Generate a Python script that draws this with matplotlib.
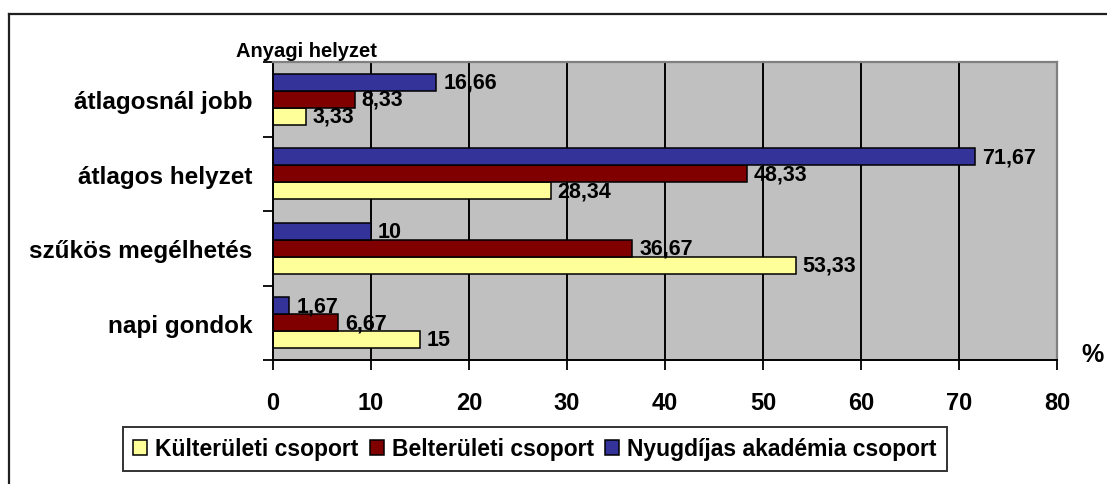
import matplotlib

matplotlib.use("Agg")
import matplotlib.pyplot as plt
import numpy as np
from matplotlib.lines import Line2D
from matplotlib.patches import Rectangle

# categories bottom -> top (as drawn)
categories = ["napi gondok", "szűkös megélhetés", "átlagos helyzet", "átlagosnál jobb"]
series_names = ["Külterületi csoport", "Belterületi csoport", "Nyugdíjas akadémia csoport"]
kulteruleti = [15, 53.33, 28.34, 3.33]
belteruleti = [6.67, 36.67, 48.33, 8.33]
nyugdijas = [1.67, 10, 71.67, 16.66]
value_labels = [
    ["15", "53,33", "28,34", "3,33"],
    ["6,67", "36,67", "48,33", "8,33"],
    ["1,67", "10", "71,67", "16,66"],
]
series_colors = ["#FFFF99", "#800000", "#333399"]
x_ticks = [0, 10, 20, 30, 40, 50, 60, 70, 80]

plt.rcParams["font.family"] = ["Liberation Sans", "DejaVu Sans"]
plt.rcParams["font.weight"] = "bold"

W, H = 1107, 485
fig = plt.figure(figsize=(W / 100, H / 100), dpi=100)
ax = fig.add_axes([273 / W, 1 - 361 / H, (1057 - 273) / W, (361 - 63) / H])

ax.set_facecolor("#C0C0C0")
ax.set_xlim(0, 80)
ax.set_ylim(-0.5, len(categories) - 0.5)

for xv in x_ticks[1:-1]:
    ax.axvline(xv, color="black", linewidth=1.4, zorder=1)

y = np.arange(len(categories))
bar_h = 0.228
offsets = [-bar_h, 0, bar_h]
all_series = [kulteruleti, belteruleti, nyugdijas]
for vals, col, off, labs in zip(all_series, series_colors, offsets, value_labels):
    ax.barh(y + off, vals, height=bar_h, color=col, edgecolor="black",
            linewidth=1.1, zorder=2)
    for yi, v, lab in zip(y, vals, labs):
        ax.annotate(lab, (v, yi + off), xytext=(5, 0), textcoords="offset points",
                    ha="left", va="center", fontsize=15.5, fontweight="bold", zorder=3)

# category ticks sit between groups, labels in the middle
ax.set_yticks(np.arange(-0.5, len(categories), 1.0))
ax.set_yticklabels([])
ax.set_yticks(y, minor=True)
ax.set_yticklabels(categories, minor=True, fontsize=17.5, fontweight="bold")
ax.tick_params(axis="y", which="major", direction="out", length=7, width=1.3, color="black")
ax.tick_params(axis="y", which="minor", length=0, pad=15)

ax.set_xticks(x_ticks)
ax.set_xticklabels([str(t) for t in x_ticks], fontsize=17, fontweight="bold")
ax.tick_params(axis="x", direction="out", length=7, width=1.3, pad=15)

for side in ("left", "bottom"):
    ax.spines[side].set_color("black")
    ax.spines[side].set_linewidth(1.4)
for side in ("top", "right"):
    ax.spines[side].set_color("#808080")
    ax.spines[side].set_linewidth(1.6)

fig.text(236 / W, 1 - 57 / H, "Anyagi helyzet", fontsize=14.5, fontweight="bold",
         ha="left", va="baseline")
fig.text(1092 / W, 1 - 355 / H, "%", fontsize=18, fontweight="bold", ha="center", va="center")

# outer chart-area border (only top and left are inside the image)
fig.add_artist(Line2D([9 / W, 1.0], [1 - 15 / H, 1 - 15 / H], color="#202020", linewidth=1.6))
fig.add_artist(Line2D([9 / W, 9 / W], [0.0, 1 - 15 / H], color="#202020", linewidth=1.6))

handles = [Rectangle((0, 0), 1, 1, facecolor=c, edgecolor="black", linewidth=1.1)
           for c in series_colors]
leg = fig.legend(handles, series_names, loc="center", bbox_to_anchor=(535 / W, 1 - 450 / H),
                 ncol=3, frameon=True, fancybox=False, edgecolor="black",
                 prop={"size": 16.5, "weight": "bold"}, handlelength=0.6, handleheight=0.6,
                 handletextpad=0.35, columnspacing=0.5, borderpad=0.45, borderaxespad=0)
leg.get_frame().set_linewidth(1.4)

fig.savefig("out.png", dpi=100)
